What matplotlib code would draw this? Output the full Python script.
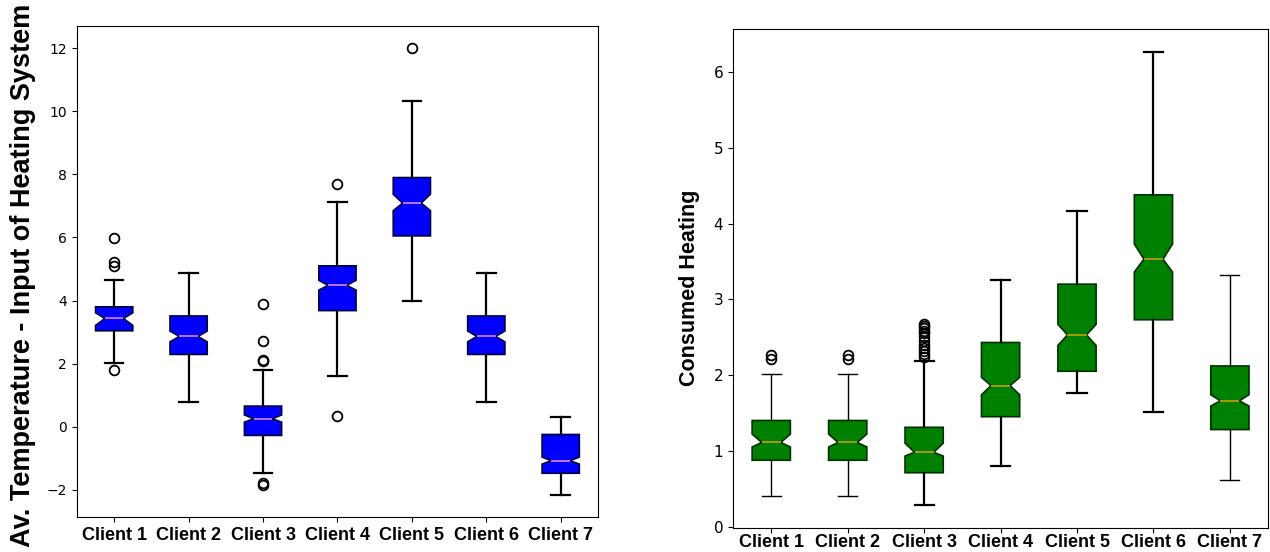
import matplotlib
matplotlib.use("Agg")
import matplotlib.pyplot as plt

clients = ["Client 1", "Client 2", "Client 3", "Client 4", "Client 5", "Client 6", "Client 7"]

# left: Av. Temperature - Input of Heating System
temp_whislo = [2.03, 0.78, -1.48, 1.61, 3.99, 0.78, -2.16]
temp_q1 = [3.04, 2.29, -0.28, 3.68, 6.05, 2.29, -1.48]
temp_cilo = [3.21, 2.69, 0.14, 4.33, 6.85, 2.69, -1.19]
temp_med = [3.43, 2.86, 0.25, 4.48, 7.09, 2.86, -1.08]
temp_cihi = [3.61, 3.03, 0.37, 4.64, 7.37, 3.03, -0.97]
temp_q3 = [3.80, 3.51, 0.65, 5.10, 7.90, 3.51, -0.25]
temp_whishi = [4.64, 4.88, 1.81, 7.12, 10.34, 4.88, 0.29]
temp_fliers = [[5.97, 5.22, 5.09, 1.81], [], [3.88, 2.70, 2.12, 2.08, -1.78, -1.84],
               [7.69, 0.33], [12.0], [], []]

# right: Consumed Heating
heat_whislo = [0.40, 0.40, 0.28, 0.80, 1.76, 1.51, 0.61]
heat_q1 = [0.875, 0.875, 0.71, 1.45, 2.05, 2.73, 1.28]
heat_cilo = [1.05, 1.05, 0.93, 1.74, 2.39, 3.36, 1.59]
heat_med = [1.11, 1.11, 0.98, 1.86, 2.53, 3.53, 1.66]
heat_cihi = [1.22, 1.22, 1.10, 1.97, 2.67, 3.73, 1.74]
heat_q3 = [1.40, 1.40, 1.31, 2.43, 3.20, 4.38, 2.12]
heat_whishi = [2.01, 2.01, 2.19, 3.26, 4.16, 6.27, 3.32]
heat_fliers = [[2.27, 2.21], [2.27, 2.21],
               [2.24, 2.28, 2.32, 2.36, 2.40, 2.45, 2.50, 2.55, 2.58, 2.62, 2.65, 2.68],
               [], [], [], []]


def make_stats(lo, q1, cilo, med, cihi, q3, hi, fl):
    stats = []
    for i in range(len(clients)):
        stats.append(dict(label=clients[i], whislo=lo[i], q1=q1[i], cilo=cilo[i], med=med[i],
                          cihi=cihi[i], q3=q3[i], whishi=hi[i], fliers=fl[i]))
    return stats


def draw_box(ax, stats, fill, edge, medcol):
    res = ax.bxp(stats, shownotches=True, patch_artist=True, widths=0.5,
                 boxprops=dict(facecolor=fill, edgecolor=edge, linewidth=1.2),
                 medianprops=dict(color=medcol, linewidth=1.2),
                 whiskerprops=dict(color="black", linewidth=1.6),
                 capprops=dict(color="black", linewidth=1.6),
                 flierprops=dict(marker="o", markerfacecolor="none", markeredgecolor="black",
                                 markersize=7, markeredgewidth=1.3))
    for lab in ax.get_xticklabels():
        lab.set_fontfamily("Liberation Sans")
        lab.set_fontweight("bold")
        lab.set_fontsize(13)
    return res


fig = plt.figure(figsize=(12.7, 5.52), dpi=100)

ax1 = fig.add_axes([0.0606, 0.0634, 0.4102, 0.8895])
draw_box(ax1, make_stats(temp_whislo, temp_q1, temp_cilo, temp_med, temp_cihi, temp_q3,
                         temp_whishi, temp_fliers), "#0000ff", "#000040", "#e080e0")
ax1.set_yticks([-2, 0, 2, 4, 6, 8, 10, 12])
ax1.tick_params(axis="y", labelsize=10)
ax1.tick_params(axis="x", pad=4)
ax1.set_ylabel("Av. Temperature - Input of Heating System", fontsize=19.5, fontweight="bold",
               fontfamily="Liberation Sans")
ax1.yaxis.set_label_coords(-0.078, 0.493)

ax2 = fig.add_axes([0.5772, 0.0435, 0.4213, 0.904])
res2 = draw_box(ax2, make_stats(heat_whislo, heat_q1, heat_cilo, heat_med, heat_cihi, heat_q3,
                                heat_whishi, heat_fliers), "#008000", "#003000", "#c8a000")
# thinner whiskers on client 1, 2 and 7 as in the original
for i in [0, 1, 6]:
    for ln in res2["whiskers"][2 * i:2 * i + 2] + res2["caps"][2 * i:2 * i + 2]:
        ln.set_linewidth(1.0)
ax2.set_yticks([0, 1, 2, 3, 4, 5, 6])
ax2.tick_params(axis="y", labelsize=11)
ax2.tick_params(axis="x", pad=1)
ax2.set_ylabel("Consumed Heating", fontsize=15.5, fontweight="bold",
               fontfamily="Liberation Sans")
ax2.yaxis.set_label_coords(-0.062, 0.481)

fig.savefig("out.png", dpi=100)
